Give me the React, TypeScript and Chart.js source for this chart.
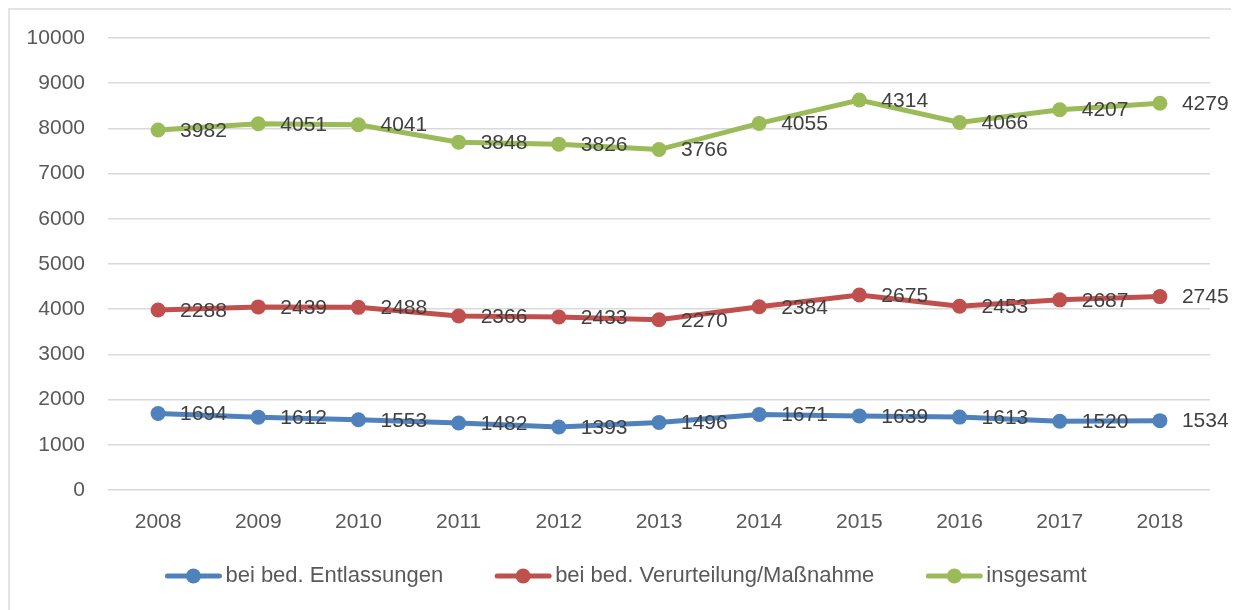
import React, { useEffect, useRef } from "react";
import { Chart, registerables } from "chart.js";

Chart.register(...registerables);

const years = ["2008", "2009", "2010", "2011", "2012", "2013", "2014", "2015", "2016", "2017", "2018"];
const entlassungen = [1694, 1612, 1553, 1482, 1393, 1496, 1671, 1639, 1613, 1520, 1534];
const verurteilung = [2288, 2439, 2488, 2366, 2433, 2270, 2384, 2675, 2453, 2687, 2745];
const insgesamt = [3982, 4051, 4041, 3848, 3826, 3766, 4055, 4314, 4066, 4207, 4279];
const seriesNames = ["bei bed. Entlassungen", "bei bed. Verurteilung/Maßnahme", "insgesamt"];
const seriesColors = ["#4F81BD", "#C0504D", "#9BBB59"];
const yMin = 0;
const yMax = 10000;
const yStep = 1000;

const FONT = "'Liberation Sans', Arial, sans-serif";
const TICK_COLOR = "#595959";
const LABEL_COLOR = "#404040";

const dataLabelPlugin = {
  id: "dataLabels",
  afterDatasetsDraw(chart: any) {
    const ctx = chart.ctx;
    ctx.save();
    ctx.font = `21px ${FONT}`;
    ctx.fillStyle = LABEL_COLOR;
    ctx.textAlign = "left";
    ctx.textBaseline = "middle";
    chart.data.datasets.forEach((ds: any, di: number) => {
      const meta = chart.getDatasetMeta(di);
      meta.data.forEach((pt: any, i: number) => {
        ctx.fillText(String(ds.data[i]), pt.x + 22, pt.y + 1);
      });
    });
    ctx.restore();
  },
};

const legendPlugin = {
  id: "customLegend",
  afterDraw(chart: any) {
    const ctx = chart.ctx;
    ctx.save();
    ctx.font = `22px ${FONT}`;
    const markerW = 56;
    const textGap = 4;
    const itemGap = 52;
    const items = chart.data.datasets.map((ds: any) => ({
      label: ds.label,
      color: ds.borderColor,
      w: markerW + textGap + ctx.measureText(ds.label).width,
    }));
    const total = items.reduce((s: number, it: any) => s + it.w, 0) + itemGap * (items.length - 1);
    let x = chart.width / 2 - total / 2 + 3;
    const y = 566;
    items.forEach((it: any) => {
      ctx.strokeStyle = it.color;
      ctx.lineWidth = 5;
      ctx.lineCap = "round";
      ctx.beginPath();
      ctx.moveTo(x + 2, y);
      ctx.lineTo(x + markerW - 2, y);
      ctx.stroke();
      ctx.fillStyle = it.color;
      ctx.beginPath();
      ctx.arc(x + markerW / 2, y, 7.5, 0, Math.PI * 2);
      ctx.fill();
      ctx.fillStyle = TICK_COLOR;
      ctx.textAlign = "left";
      ctx.textBaseline = "middle";
      ctx.fillText(it.label, x + markerW + textGap, y);
      x += it.w + itemGap;
    });
    ctx.restore();
  },
};

export default function App() {
  const canvasRef = useRef<HTMLCanvasElement | null>(null);

  useEffect(() => {
    if (!canvasRef.current) return;
    const mk = (label: string, data: number[], color: string) => ({
      label,
      data,
      borderColor: color,
      backgroundColor: color,
      pointBackgroundColor: color,
      pointBorderColor: color,
      borderWidth: 5,
      pointRadius: 7.5,
      pointBorderWidth: 0,
      tension: 0,
      fill: false,
    });
    const chart = new Chart(canvasRef.current, {
      type: "line",
      data: {
        labels: years,
        datasets: [
          mk(seriesNames[0], entlassungen, seriesColors[0]),
          mk(seriesNames[1], verurteilung, seriesColors[1]),
          mk(seriesNames[2], insgesamt, seriesColors[2]),
        ],
      },
      options: {
        responsive: false,
        animation: false,
        layout: { padding: { top: 28, right: 26, left: 0, bottom: 0 } },
        plugins: {
          legend: { display: false },
          tooltip: { enabled: false },
        },
        scales: {
          x: {
            offset: true,
            grid: { display: false, drawTicks: false },
            border: { display: false },
            ticks: { color: TICK_COLOR, font: { family: FONT, size: 21 }, padding: 20, maxRotation: 0 },
            afterFit: (scale: any) => {
              scale.height = 120;
            },
          },
          y: {
            stacked: true,
            min: yMin,
            max: yMax,
            grid: { color: "#D9D9D9", lineWidth: 1.5, drawTicks: false },
            border: { display: false },
            ticks: {
              stepSize: yStep,
              color: TICK_COLOR,
              font: { family: FONT, size: 21 },
              padding: 23,
              callback: (v: any) => String(v),
            },
            afterFit: (scale: any) => {
              scale.width = 98;
              scale.paddingTop = 0;
              scale.paddingBottom = 0;
            },
          },
        },
      },
      plugins: [dataLabelPlugin, legendPlugin],
    });
    return () => chart.destroy();
  }, []);

  return (
    <div
      style={{
        width: 1230,
        height: 610,
        boxSizing: "border-box",
        border: "2px solid #E3E3E3",
        background: "#fff",
      }}
    >
      <canvas ref={canvasRef} width={1226} height={600} style={{ display: "block" }} />
    </div>
  );
}
